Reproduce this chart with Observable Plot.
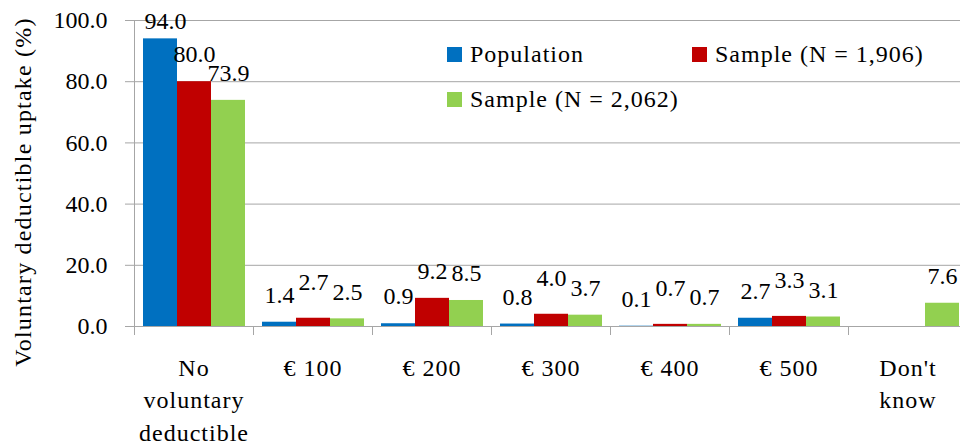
<!DOCTYPE html>
<html>
<head>
<meta charset="utf-8">
<script src="https://cdn.jsdelivr.net/npm/d3@7"></script>
<script src="https://cdn.jsdelivr.net/npm/@observablehq/plot@0.6"></script>
<style>
  body { margin: 0; font-size: 24px; font-family: 'Liberation Serif', 'Times New Roman', serif; }
  .ytitle { position: absolute; left: 23px; top: 192px; transform: translate(-50%, -50%) rotate(-90deg); white-space: nowrap; font-size: 24px; line-height: 24px; letter-spacing: 1.2px; }
  .lg-sw { position: absolute; width: 15px; height: 15px; }
  .lg-tx { position: absolute; font-size: 24px; line-height: 24px; white-space: nowrap; letter-spacing: 1px; }
</style>
</head>
<body>
<div id="wrap" style="position:relative;width:960px;height:448px;font-family:'Liberation Serif','Times New Roman',serif">
  <div id="chart" style="position:absolute;left:0;top:0"></div>
  <div class="ytitle" style="font-family:'Liberation Serif','Times New Roman',serif">Voluntary deductible uptake (%)</div>
  <div id="legend"></div>
</div>
<script>
const categories = ["No voluntary deductible", "€ 100", "€ 200", "€ 300", "€ 400", "€ 500", "Don't know"];
const categoryLabels = ["No\nvoluntary\ndeductible", "€ 100", "€ 200", "€ 300", "€ 400", "€ 500", "Don't\nknow"];
const series = ["Population", "Sample (N = 1,906)", "Sample (N = 2,062)"];
const population = [94.0, 1.4, 0.9, 0.8, 0.1, 2.7, null];
const sample1906 = [80.0, 2.7, 9.2, 4.0, 0.7, 3.3, null];
const sample2062 = [73.9, 2.5, 8.5, 3.7, 0.7, 3.1, 7.6];
const yTicks = [0, 20, 40, 60, 80, 100];
const colors = ["#0070C0", "#C00000", "#92D050"];

const seriesValues = [population, sample1906, sample2062];
const rows = [];
categories.forEach((c, i) => {
  series.forEach((s, j) => {
    const v = seriesValues[j][i];
    if (v != null) rows.push({category: c, series: s, value: v});
  });
});
const labelOf = new Map(categories.map((c, i) => [c, categoryLabels[i]]));
const FONT = "'Liberation Serif', 'Times New Roman', serif";
const GRID = "#a6a6a6";
// label placement rules imitating the original's collision avoidance
const nearTop = d => d.value > 90;
const raised = d => d.series === series[1] && d.value < 5;
const normal = d => !nearTop(d) && !raised(d);

const textOpts = {
  fx: "category", x: "series", y: "value",
  text: d => d.value.toFixed(1),
  fontSize: 24, fontFamily: FONT, fill: "#000"
};

const chart = Plot.plot({
  width: 960,
  height: 448,
  marginLeft: 133,
  marginRight: 0,
  marginTop: 20,
  marginBottom: 122,
  style: {fontFamily: FONT, fontSize: "24px", color: "#000"},
  fx: {domain: categories, range: [133, 967], paddingInner: 0, paddingOuter: 0},
  x: {domain: series, paddingInner: 0, paddingOuter: 0.25, axis: null},
  y: {domain: [0, 100]},
  color: {domain: series, range: colors},
  marks: [
    Plot.gridY(yTicks, {stroke: GRID, strokeOpacity: 1}),
    Plot.barY(rows, {fx: "category", x: "series", y: "value", fill: "series"}),
    Plot.text(rows.filter(normal), {...textOpts, dy: -27}),
    Plot.text(rows.filter(raised), {...textOpts, dy: -36}),
    Plot.text(rows.filter(nearTop), {...textOpts, dx: 5, dy: -18}),
    Plot.axisY({ticks: yTicks, tickFormat: d => d.toFixed(1), tickSize: 9, tickPadding: 18,
      stroke: GRID, fill: "#000", label: null, fontSize: 24, fontFamily: FONT}),
    Plot.axisFx({anchor: "bottom", tickSize: 0, tickPadding: 26, label: null,
      tickFormat: d => labelOf.get(d), lineHeight: 1.36, fontSize: 24, fontFamily: FONT, fill: "#000"})
  ]
});
document.getElementById("chart").appendChild(chart);

const svg = d3.select(chart);
svg.selectAll('g[aria-label="fx-axis tick label"]').style("letter-spacing", "1px");

// axis line and category-boundary ticks from the library's scales
const fx = chart.scale("fx");
const y = chart.scale("y");
const y0 = y.apply(0), y100 = y.apply(100);
const left = fx.apply(categories[0]);
const g = svg.append("g").attr("stroke", GRID).attr("stroke-width", 1);
g.append("line").attr("x1", left + 0.5).attr("x2", left + 0.5).attr("y1", y100).attr("y2", y0 + 9);
categories.forEach(c => {
  const x = fx.apply(c) + fx.bandwidth;
  g.append("line").attr("x1", x + 0.5).attr("x2", x + 0.5).attr("y1", y0).attr("y2", y0 + 9);
});

// legend
const legend = document.getElementById("legend");
const items = [
  {sw: [447, 47], tx: [470, 41.5]},
  {sw: [692, 47], tx: [715, 41.5]},
  {sw: [447, 92], tx: [470, 87]}
];
series.forEach((s, i) => {
  const sw = document.createElement("div");
  sw.className = "lg-sw";
  sw.style.left = items[i].sw[0] + "px";
  sw.style.top = items[i].sw[1] + "px";
  sw.style.background = colors[i];
  legend.appendChild(sw);
  const tx = document.createElement("div");
  tx.className = "lg-tx";
  tx.style.left = items[i].tx[0] + "px";
  tx.style.top = items[i].tx[1] + "px";
  tx.style.fontFamily = FONT;
  tx.textContent = s;
  legend.appendChild(tx);
});
</script>
</body>
</html>
